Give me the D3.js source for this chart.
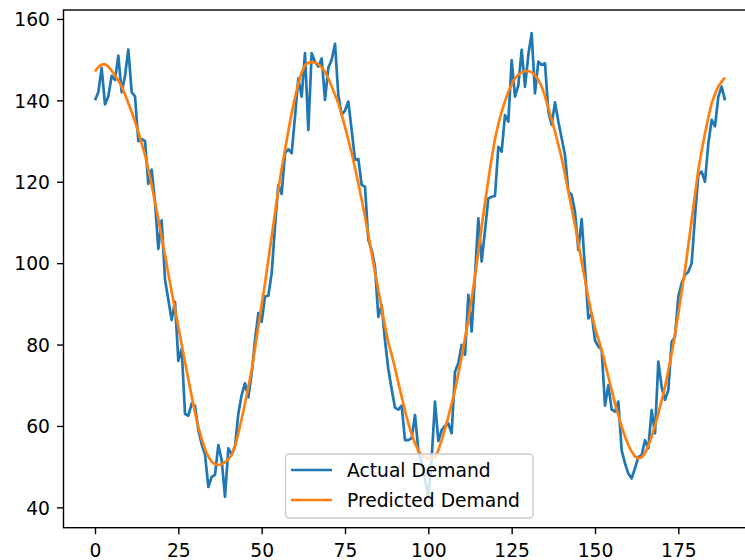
<!DOCTYPE html>
<html>
<head>
<meta charset="utf-8">
<script src="https://cdn.jsdelivr.net/npm/d3@7"></script>
<style>
  html, body { margin: 0; padding: 0; background: #fff; }
  svg { display: block; }
  text { font-family: "DejaVu Sans", sans-serif; }
</style>
</head>
<body>
<svg id="chart" width="745" height="560"></svg>
<script>
// ---- data ----
const seriesNames = ["Actual Demand", "Predicted Demand"];
const actualDemand = [
  140, 142, 148, 139, 141, 146, 145, 151, 142, 146,
  152.5, 142, 141, 130, 130.5, 130, 119.5, 123, 115, 103.5,
  110.5, 96, 91, 86, 90.5, 76, 79, 63, 62.5, 65.5,
  65, 59, 55.5, 53, 45, 47.5, 48, 55.3, 51.6, 42.6,
  54.5, 53, 55, 63, 67.6, 70.5, 67, 73, 81, 87.7,
  85.6, 91.8, 92, 97.5, 109, 119.2, 117, 127, 128, 127,
  136, 145.4, 140.9, 151.6, 132.7, 151.6, 149.5, 148.3, 150.3, 140.1,
  148, 150, 153.9, 141.3, 136.4, 137.5, 139.7, 132.7, 125.4, 125.6,
  119.2, 118.8, 105.7, 103.2, 99.1, 86.8, 89.7, 81, 74, 69,
  64.5, 64, 65, 56.5, 56.5, 57, 62.7, 54, 51, 47,
  42.5, 52, 66, 56.3, 59, 60, 60.6, 58.2, 73.3, 75.4,
  79.9, 77.5, 92.2, 83.2, 97, 111, 100.4, 108, 115.9, 116.3,
  116.5, 128.6, 127.4, 136.4, 134.8, 149.9, 140.9, 143.7, 152.4, 143.3,
  151.2, 156.5, 141.7, 149.5, 148.7, 149.1, 137.2, 134, 139.5, 134.8,
  130.7, 126.6, 117.6, 116.8, 112.6, 103.2, 110.8, 98.7, 86.4, 87.6,
  81, 79.5, 78.7, 65, 70, 64, 63.5, 66, 54, 50.8,
  48.3, 47.1, 49.6, 52.4, 52.8, 56.5, 54.5, 63.9, 58.2, 75.8,
  69.6, 66.4, 68.8, 80.7, 81.9, 91.8, 95.1, 97.1, 97.9, 100,
  111.4, 121.7, 122.5, 120, 129.4, 135.2, 133.6, 140.9, 143.4, 140
];
const predictedDemand = [
  147.1, 148.2, 148.8, 148.9, 148.3, 147.3, 146.1, 144.8, 143.4, 141.5,
  139.3, 137.2, 134.8, 132.2, 129.4, 126.6, 123, 119.2, 115.1, 110.8,
  106.4, 102, 97.4, 93, 88.7, 84.4, 80, 75.7, 71.5, 67.3,
  63.3, 59.8, 56.8, 54.3, 52.5, 51.2, 50.6, 50.4, 50.6, 51.1,
  51.8, 52.8, 55, 58.2, 61.7, 65.5, 69.5, 73.7, 79, 84.4,
  89.7, 95, 100.8, 106.5, 112.3, 118, 123.2, 127.8, 132.5, 136.8,
  140.7, 144.2, 146.8, 148.6, 149.3, 149.4, 149.3, 148.9, 148.1, 147,
  145.4, 143.4, 141.4, 139.3, 136.5, 133.5, 130.3, 127, 123.4, 119.6,
  115.6, 111.4, 106.9, 102.4, 97.9, 93.4, 89, 84.5, 80.5, 77.5,
  74.2, 70.6, 67.2, 63.8, 60.6, 58, 55.7, 54, 52.8, 52.2,
  52, 51.9, 52.2, 54, 56.5, 59.2, 62.3, 65.5, 68.8, 72.8,
  77, 81.5, 86, 91.3, 96.7, 102.8, 109, 114.8, 120.4, 125.8,
  130.5, 134.2, 137.2, 139.8, 142.1, 143.9, 145.4, 146.3, 146.9, 147.2,
  147.2, 146.9, 146.2, 145, 143.4, 141, 138.1, 135.3, 132.3, 129.1,
  125.8, 121.8, 117.6, 113.5, 109.4, 104.9, 100.4, 95.9, 91.4, 87.5,
  84, 81.3, 78.7, 75.4, 72.1, 68.8, 65.5, 62.6, 59.8, 57.4,
  55.3, 53.7, 52.5, 52, 52.3, 53.3, 55.1, 57.4, 60.1, 63.1,
  66.3, 69.6, 73.6, 77.8, 82.6, 87.7, 93, 98.3, 104.4, 110.6,
  116.8, 122.9, 127.6, 131.9, 135.8, 139.3, 141.6, 143.4, 144.6, 145.6
];
const xTicks = [0, 25, 50, 75, 100, 125, 150, 175];
const yTicks = [40, 60, 80, 100, 120, 140, 160];
const colors = ["#1f77b4", "#ff7f0e"];

// ---- layout ----
const svg = d3.select("#chart");
const plotLeft = 63.5, plotTop = 10, plotBottom = 527.7, plotRight = 756.5;
const fontSize = 18.7;
const lineW = 2.7, spineW = 1.4, tickLen = 6.5;

const x = d3.scaleLinear().domain([-9.45, 198.45]).range([plotLeft, plotRight]);
const y = d3.scaleLinear().domain([35.0, 162.2]).range([plotBottom, plotTop]);

svg.append("clipPath").attr("id", "clip")
  .append("rect").attr("x", plotLeft).attr("y", plotTop)
  .attr("width", plotRight - plotLeft).attr("height", plotBottom - plotTop);

const plot = svg.append("g").attr("clip-path", "url(#clip)");
const line = d3.line().x((d, i) => x(i)).y(d => y(d));

[actualDemand, predictedDemand].forEach((s, k) => {
  plot.append("path").datum(s)
    .attr("d", line)
    .attr("fill", "none")
    .attr("stroke", colors[k])
    .attr("stroke-width", lineW)
    .attr("stroke-linejoin", "round")
    .attr("stroke-linecap", "butt");
});

// spines
svg.append("rect")
  .attr("x", plotLeft).attr("y", plotTop)
  .attr("width", plotRight - plotLeft).attr("height", plotBottom - plotTop)
  .attr("fill", "none").attr("stroke", "#000").attr("stroke-width", spineW);

// axes
const xAxis = d3.axisBottom(x).tickValues(xTicks).tickSize(tickLen).tickFormat(d3.format("d"));
const yAxis = d3.axisLeft(y).tickValues(yTicks).tickSize(tickLen).tickFormat(d3.format("d"));

const gx = svg.append("g").attr("transform", `translate(0,${plotBottom})`).call(xAxis);
const gy = svg.append("g").attr("transform", `translate(${plotLeft},0)`).call(yAxis);
[gx, gy].forEach(g => {
  g.select(".domain").remove();
  g.selectAll(".tick line").attr("stroke", "#000").attr("stroke-width", spineW);
  g.selectAll(".tick text")
    .attr("font-family", "DejaVu Sans, sans-serif")
    .attr("font-size", fontSize)
    .attr("fill", "#000");
});
gx.selectAll(".tick text").attr("dy", null).attr("y", 29);
gy.selectAll(".tick text").attr("dy", null).attr("x", -13.5).attr("y", 6.8);

// legend
const lg = svg.append("g");
lg.append("rect")
  .attr("x", 285.5).attr("y", 454).attr("width", 247.5).attr("height", 64)
  .attr("rx", 3.5).attr("ry", 3.5)
  .attr("fill", "#fff").attr("fill-opacity", 0.8)
  .attr("stroke", "#cccccc").attr("stroke-width", 1.4);
seriesNames.forEach((name, k) => {
  const yy = 470 + k * 30;
  lg.append("line")
    .attr("x1", 291).attr("x2", 332).attr("y1", yy).attr("y2", yy)
    .attr("stroke", colors[k]).attr("stroke-width", lineW);
  lg.append("text")
    .attr("x", 347).attr("y", yy + 6.8)
    .attr("font-size", fontSize).attr("fill", "#000")
    .text(name);
});
</script>
</body>
</html>
